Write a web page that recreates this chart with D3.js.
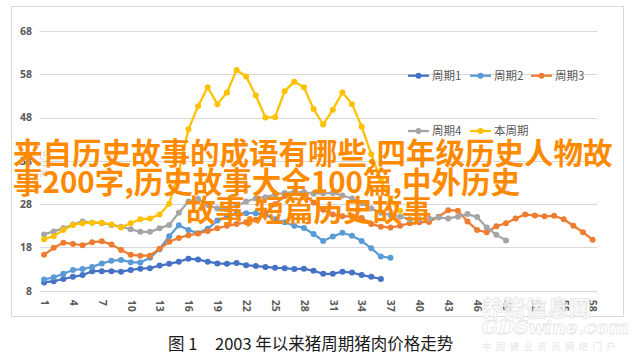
<!DOCTYPE html>
<html>
<head>
<meta charset="utf-8">
<script src="https://cdn.jsdelivr.net/npm/d3@7/dist/d3.min.js"></script>
<style>
  html, body { margin: 0; padding: 0; background: #fff; }
  svg { display: block; }
</style>
</head>
<body>
<svg id="chart" width="634" height="358"></svg>
<script>
// ---------- data ----------
const categories = [1,2,3,4,5,6,7,8,9,10,11,12,13,14,15,16,17,18,19,20,21,22,23,24,25,26,27,28,29,30,
  31,32,33,34,35,36,37,38,39,40,41,42,43,44,45,46,47,48,49,50,51,52,53,54,55,56,57,58];
const xTickLabels = [1,4,7,10,13,16,19,22,25,28,31,34,37,40,43,46,49,52,55,58];
const yTickLabels = [8,18,28,38,48,58,68];
const seriesNames = ["周期1","周期2","周期3","周期4","本周期"];

const cycle1 = [9.9,10.2,10.7,11.2,11.6,12.5,12.5,12.5,12.4,12.8,13.1,13.2,13.8,14.2,14.7,15.4,15.2,14.7,14.3,14.2,
  14.4,13.9,13.7,13.5,13.3,13.2,13.0,13.1,12.6,11.9,11.9,12.4,12.2,11.6,11.2,10.7];
const cycle2 = [10.6,11.1,11.9,12.8,13.0,13.5,14.3,14.9,15.1,14.6,14.5,15.6,17.6,20.6,23.1,22.0,21.3,22.3,24.2,25.0,
  25.8,25.9,25.9,25.5,24.5,23.8,23.0,22.5,21.1,19.5,20.5,21.4,20.7,19.5,17.8,15.9,15.6];
const cycle3 = [16.3,17.9,19.1,18.8,18.5,19.2,19.4,18.7,17.4,16.3,16.1,16.1,17.7,19.3,20.2,20.8,21.2,21.8,22.4,23.0,
  23.4,23.8,24.4,25.8,28.0,29.8,30.6,30.2,28.4,26.7,25.6,25.2,25.2,24.8,23.4,22.8,22.6,23.0,23.6,23.8,
  23.9,25.1,26.6,26.5,24.0,22.0,21.5,22.9,23.6,24.7,25.6,25.4,25.2,25.3,24.5,23.0,21.5,19.8];
const cycle4 = [21.0,21.7,22.4,23.3,24.0,23.7,23.6,23.2,22.8,22.2,21.6,21.6,22.4,23.2,26.0,28.6,29.2,27.8,27.0,26.8,
  27.6,28.6,29.3,29.6,30.2,30.6,30.8,30.8,30.4,30.5,30.6,30.0,29.3,28.2,27.0,26.0,25.5,25.1,24.5,24.5,
  24.7,24.9,24.7,25.1,25.7,25.0,22.6,20.9,19.6];
const current = [19.9,20.6,22.0,23.2,23.6,23.7,23.7,23.3,22.6,23.6,24.5,24.7,25.6,28.1,35.5,45.3,50.6,55.0,51.1,53.8,
  59.0,57.5,53.1,48.0,48.1,54.1,56.3,55.0,50.0,46.4,49.8,53.8,51.1,45.9,39.5,33.5,28.7,26.5];

const titleLines = ["来自历史故事的成语有哪些,四年级历史人物故", "事200字,历史故事大全100篇,中外历史", "故事,短篇历史故事"];
const captionFig = "图 1";
const captionText = "2003 年以来猪周期猪肉价格走势";

// ---------- drawing ----------
const svg = d3.select("#chart");
const colors = ["#4472C4", "#5B9BD5", "#ED7D31", "#A5A5A5", "#FFC000"];
const allSeries = [cycle1, cycle2, cycle3, cycle4, current];

// outer border
svg.append("rect").attr("x", 11.5).attr("y", 6.5).attr("width", 612).attr("height", 310)
  .attr("fill", "#fff").attr("stroke", "#D9D9D9").attr("stroke-width", 1);

const x = d3.scalePoint().domain(categories).range([44.1, 592.6]);
const y = d3.scaleLinear().domain([8, 68]).range([290.7, 31]);

// gridlines
svg.append("g").selectAll("line").data(yTickLabels).join("line")
  .attr("x1", 39.3).attr("x2", 597.3)
  .attr("y1", d => Math.round(y(d)) + 0.5).attr("y2", d => Math.round(y(d)) + 0.5)
  .attr("stroke", "#D9D9D9").attr("stroke-width", 1);

// y axis
const yAxis = svg.append("g").attr("transform", "translate(32,0)")
  .call(d3.axisLeft(y).tickValues(yTickLabels).tickSize(0).tickPadding(0));
yAxis.select(".domain").remove();
yAxis.selectAll("text").attr("font-family", "'Noto Sans', 'DejaVu Sans', sans-serif")
  .attr("font-size", 10.5).attr("font-weight", "bold").attr("fill", "#595959");

// x axis
const xAxis = svg.append("g").attr("transform", "translate(0,290.7)")
  .call(d3.axisBottom(x).tickValues(xTickLabels).tickSize(0));
xAxis.select(".domain").remove();
xAxis.selectAll("text")
  .attr("font-family", "'Noto Sans', 'DejaVu Sans', sans-serif")
  .attr("font-size", 10.5).attr("font-weight", "bold").attr("fill", "#595959")
  .attr("transform", "rotate(90)")
  .attr("x", 9).attr("y", 0).attr("dy", "0.35em")
  .attr("text-anchor", "start");

// faint y axis title
svg.append("text").attr("transform", "translate(41,150) rotate(90)")
  .attr("font-family", "'Noto Sans CJK SC', sans-serif").attr("font-size", 8)
  .attr("fill", "#c8c8c8").text("元/千克");

// lines
const line = d3.line().x((d, i) => x(categories[i])).y(d => y(d));
allSeries.forEach((s, k) => {
  const g = svg.append("g");
  g.append("path").datum(s).attr("d", line).attr("fill", "none")
    .attr("stroke", colors[k]).attr("stroke-width", 2.25).attr("stroke-linejoin", "round");
  g.selectAll("circle").data(s).join("circle")
    .attr("cx", (d, i) => x(categories[i])).attr("cy", d => y(d)).attr("r", 3)
    .attr("fill", colors[k]);
});

// legend
const legendPos = [[408, 75.7], [470, 75.7], [531, 75.7], [408, 131], [470, 131]];
seriesNames.forEach((n, k) => {
  const [lx, ly] = legendPos[k];
  const g = svg.append("g").attr("transform", `translate(${lx},${ly})`);
  g.append("line").attr("x1", 0).attr("x2", 21).attr("y1", 0).attr("y2", 0)
    .attr("stroke", colors[k]).attr("stroke-width", 2.25);
  g.append("circle").attr("cx", 10.5).attr("cy", 0).attr("r", 3).attr("fill", colors[k]);
  g.append("text").attr("x", 24).attr("y", 0).attr("dy", "0.36em")
    .attr("font-family", "'Noto Sans CJK SC', sans-serif").attr("font-size", 11.5)
    .attr("fill", "#595959").text(n);
});

// watermark
const wm = svg.append("g").attr("fill", "#ffffff").attr("fill-opacity", 0.85)
  .attr("stroke", "#e6e6e6").attr("stroke-width", 0.8);
wm.append("text").attr("x", 481).attr("y", 316).attr("font-family", "'Noto Sans CJK SC', sans-serif")
  .attr("font-size", 22).attr("font-weight", "bold").text("养猪信息网");
wm.append("text").attr("x", 482).attr("y", 334).attr("font-family", "'DejaVu Serif', serif")
  .attr("font-size", 19).attr("font-weight", "bold").attr("font-style", "italic").text("GDSwine.com");
svg.append("text").attr("x", 482).attr("y", 350).attr("font-family", "'Noto Sans CJK SC', sans-serif")
  .attr("font-size", 9.5).attr("letter-spacing", 4.3).attr("fill", "#e6e6e6").text("中国猪业资讯网络门户");

// caption
svg.append("text").attr("x", 168).attr("y", 350)
  .attr("font-family", "'Noto Sans CJK SC', sans-serif").attr("font-size", 16.5)
  .attr("fill", "#1a1a1a").text(captionFig);
svg.append("text").attr("x", 215).attr("y", 350)
  .attr("font-family", "'Noto Sans CJK SC', sans-serif").attr("font-size", 16.5)
  .attr("fill", "#1a1a1a").text(captionText);

// overlay title
const titlePos = [[13, 164], [13, 193], [186, 221]];
titleLines.forEach((t, i) => {
  svg.append("text").attr("x", titlePos[i][0]).attr("y", titlePos[i][1])
    .attr("font-family", "'Noto Sans CJK SC', sans-serif").attr("font-size", 29.5)
    .attr("font-weight", "bold").attr("fill", "#FF8A00").text(t);
});
</script>
</body>
</html>
